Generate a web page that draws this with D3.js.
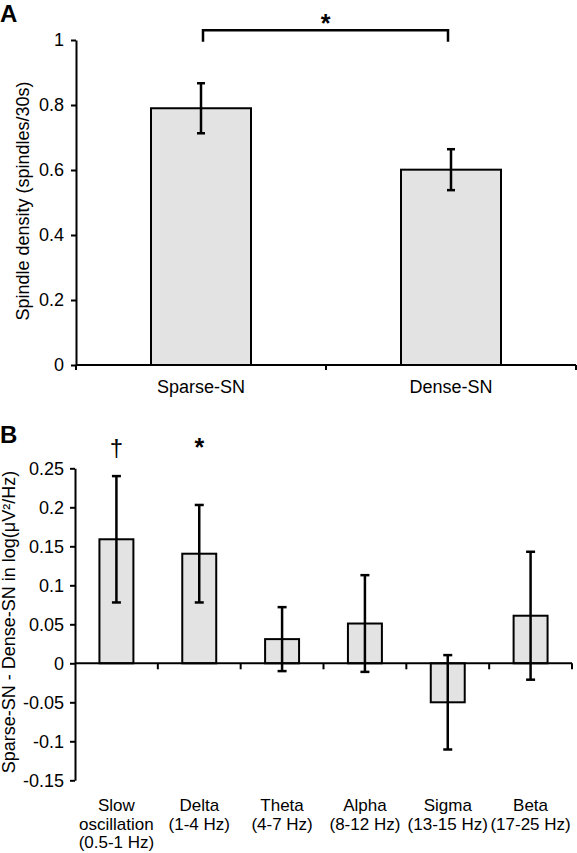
<!DOCTYPE html>
<html>
<head>
<meta charset="utf-8">
<script src="https://cdn.jsdelivr.net/npm/d3@7"></script>
<style>
  html, body { margin: 0; padding: 0; background: #fff; }
  svg { display: block; }
  text { font-family: "Liberation Sans", Arial, Helvetica, sans-serif; fill: #000; }
</style>
</head>
<body>
<script>
// ---------- data ----------
const catsA = ["Sparse-SN", "Dense-SN"];
const meansA = [0.79, 0.601];
const semA = [0.077, 0.063];
const ticksA = [0, 0.2, 0.4, 0.6, 0.8, 1];

const catsB = ["Slow oscillation", "Delta", "Theta", "Alpha", "Sigma", "Beta"];
const labelsB = [["Slow", "oscillation", "(0.5-1 Hz)"], ["Delta", "(1-4 Hz)"], ["Theta", "(4-7 Hz)"], ["Alpha", "(8-12 Hz)"], ["Sigma", "(13-15 Hz)"], ["Beta", "(17-25 Hz)"]];
const meansB = [0.159, 0.1405, 0.031, 0.051, -0.05, 0.061];
const semB = [0.081, 0.0625, 0.041, 0.062, 0.0605, 0.082];
const ticksB = [-0.15, -0.1, -0.05, 0, 0.05, 0.1, 0.15, 0.2, 0.25];
const marksB = ["†", "*", "", "", "", ""];

// ---------- setup ----------
const W = 577, H = 853;
const svg = d3.select("body").append("svg").attr("width", W).attr("height", H);
const FS = 18;
const FSX = 17;
const fill = "#e3e3e3";

function fmt(d) { return String(d); }

// ---------- Panel A ----------
const xA = d3.scaleBand().domain(catsA).range([76, 576]).paddingInner(0.6).paddingOuter(0.3);
const yA = d3.scaleLinear().domain([0, 1]).range([365, 40]);
const gA = svg.append("g");

gA.append("text").attr("x", 0).attr("y", 22).attr("font-size", 24).attr("font-weight", "bold").text("A");

// bars
gA.selectAll("rect.bar").data(catsA).join("rect")
  .attr("x", d => xA(d)).attr("width", xA.bandwidth())
  .attr("y", (d, i) => yA(meansA[i])).attr("height", (d, i) => yA(0) - yA(meansA[i]))
  .attr("fill", fill).attr("stroke", "#000").attr("stroke-width", 2);

// y axis
const axA = gA.append("g").attr("transform", `translate(${xA.range()[0]},0)`)
  .call(d3.axisLeft(yA).tickValues(ticksA).tickFormat(fmt).tickSize(5).tickSizeOuter(0).tickPadding(7));
axA.selectAll("path.domain").attr("stroke-width", 2);
axA.selectAll(".tick line").attr("stroke-width", 2);
axA.selectAll(".tick text").attr("font-size", FS).attr("font-family", null);
// extend y-axis below x-axis
gA.append("line").attr("x1", xA.range()[0]).attr("x2", xA.range()[0]).attr("y1", yA(0)).attr("y2", yA(0) + 5)
  .attr("stroke", "#000").attr("stroke-width", 2);

// x axis
gA.append("line").attr("x1", xA.range()[0]).attr("x2", xA.range()[1]).attr("y1", yA(0)).attr("y2", yA(0))
  .attr("stroke", "#000").attr("stroke-width", 2);
const boundsA = d3.range(catsA.length + 1).map(i => xA.range()[0] + i * xA.step());
gA.selectAll("line.xt").data(boundsA.slice(1)).join("line")
  .attr("x1", d => d).attr("x2", d => d).attr("y1", yA(0)).attr("y2", yA(0) + 5)
  .attr("stroke", "#000").attr("stroke-width", 2);
gA.selectAll("text.xl").data(catsA).join("text")
  .attr("x", d => xA(d) + xA.bandwidth() / 2).attr("y", 393)
  .attr("text-anchor", "middle").attr("font-size", FS).text(d => d);

// error bars
const capA = 8;
catsA.forEach((c, i) => {
  const cx = xA(c) + xA.bandwidth() / 2;
  const y1 = yA(meansA[i] + semA[i]), y2 = yA(meansA[i] - semA[i]);
  gA.append("line").attr("x1", cx).attr("x2", cx).attr("y1", y1).attr("y2", y2).attr("stroke", "#000").attr("stroke-width", 2.5);
  [y1, y2].forEach(y => gA.append("line").attr("x1", cx - capA / 2).attr("x2", cx + capA / 2).attr("y1", y).attr("y2", y).attr("stroke", "#000").attr("stroke-width", 2.5));
});

// significance bracket
const bx1 = xA(catsA[0]) + xA.bandwidth() / 2 + 2, bx2 = xA(catsA[1]) + xA.bandwidth() / 2 - 3;
gA.append("path")
  .attr("d", `M${bx1},${yA(0.995)}V${yA(1.03)}H${bx2}V${yA(0.995)}`)
  .attr("fill", "none").attr("stroke", "#000").attr("stroke-width", 2.5);
gA.append("text").attr("x", (bx1 + bx2) / 2).attr("y", yA(1.025)).attr("text-anchor", "middle")
  .attr("font-size", 25).attr("font-weight", "bold").text("*");

// y label
gA.append("text").attr("transform", `translate(29,201) rotate(-90)`).attr("text-anchor", "middle")
  .attr("font-size", FS).text("Spindle density (spindles/30s)");

// ---------- Panel B ----------
const xB = d3.scaleBand().domain(catsB).range([75, 572]).paddingInner(0.59).paddingOuter(0.295);
const yB = d3.scaleLinear().domain([-0.15, 0.25]).range([780.3, 468.3]);
const gB = svg.append("g");

gB.append("text").attr("x", 0).attr("y", 443).attr("font-size", 24).attr("font-weight", "bold").text("B");

gB.selectAll("rect.bar").data(catsB).join("rect")
  .attr("x", d => xB(d)).attr("width", xB.bandwidth())
  .attr("y", (d, i) => yB(Math.max(0, meansB[i])))
  .attr("height", (d, i) => Math.abs(yB(meansB[i]) - yB(0)))
  .attr("fill", fill).attr("stroke", "#000").attr("stroke-width", 2);

const axB = gB.append("g").attr("transform", `translate(${xB.range()[0]},0)`)
  .call(d3.axisLeft(yB).tickValues(ticksB).tickFormat(fmt).tickSize(5).tickSizeOuter(0).tickPadding(6));
axB.selectAll("path.domain").attr("stroke-width", 2);
axB.selectAll(".tick line").attr("stroke-width", 2);
axB.selectAll(".tick text").attr("font-size", FS).attr("font-family", null);

gB.append("line").attr("x1", xB.range()[0]).attr("x2", xB.range()[1]).attr("y1", yB(0)).attr("y2", yB(0))
  .attr("stroke", "#000").attr("stroke-width", 2);
const boundsB = d3.range(catsB.length + 1).map(i => xB.range()[0] + i * xB.step());
gB.selectAll("line.xt").data(boundsB.slice(1)).join("line")
  .attr("x1", d => d).attr("x2", d => d).attr("y1", yB(0)).attr("y2", yB(0) + 6)
  .attr("stroke", "#000").attr("stroke-width", 2);

const capB = 9;
catsB.forEach((c, i) => {
  const cx = xB(c) + xB.bandwidth() / 2;
  const y1 = yB(meansB[i] + semB[i]), y2 = yB(meansB[i] - semB[i]);
  gB.append("line").attr("x1", cx).attr("x2", cx).attr("y1", y1).attr("y2", y2).attr("stroke", "#000").attr("stroke-width", 2.5);
  [y1, y2].forEach(y => gB.append("line").attr("x1", cx - capB / 2).attr("x2", cx + capB / 2).attr("y1", y).attr("y2", y).attr("stroke", "#000").attr("stroke-width", 2.5));
  if (marksB[i]) {
    const isDag = marksB[i] === "†";
    gB.append("text").attr("x", cx).attr("y", 456).attr("text-anchor", "middle")
      .attr("font-size", isDag ? 24 : 25).attr("font-weight", isDag ? "normal" : "bold").text(marksB[i]);
  }
  labelsB[i].forEach((ln, k) => gB.append("text").attr("x", cx).attr("y", 811 + k * 18.5)
    .attr("text-anchor", "middle").attr("font-size", FSX).text(ln));
});

gB.append("text").attr("transform", `translate(15,622) rotate(-90)`).attr("text-anchor", "middle")
  .attr("font-size", FS).text("Sparse-SN - Dense-SN in log(μV²/Hz)");
</script>
</body>
</html>
